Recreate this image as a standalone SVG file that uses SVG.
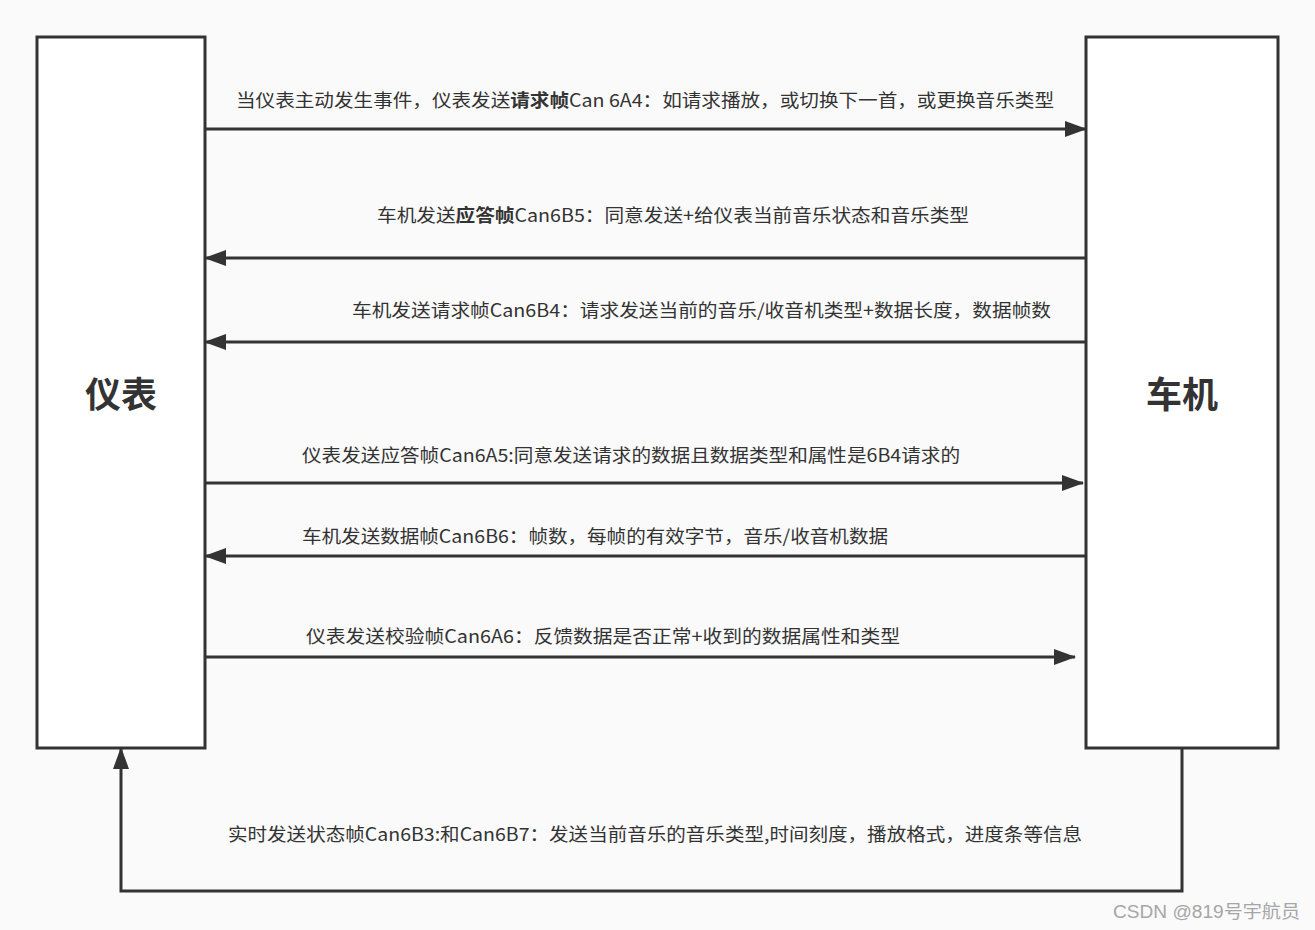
<svg xmlns="http://www.w3.org/2000/svg" width="1315" height="930" viewBox="0 0 1315 930">
<style>
.box{fill:#ffffff;stroke:#333333;stroke-width:3}
.ln{fill:none;stroke:#333333;stroke-width:3}
.lbl{font-family:"Noto Sans CJK SC","Noto Sans",sans-serif;font-size:18px;fill:#333333}
.title{font-family:"Noto Sans CJK SC","Noto Sans",sans-serif;font-size:36px;font-weight:bold;fill:#333333;text-anchor:middle}
.b{font-weight:bold}
.wm{font-family:"Liberation Sans","Noto Sans CJK SC",sans-serif;font-size:18px;fill:#a6a6a6}
</style>
<defs>
<marker id="arr" markerUnits="userSpaceOnUse" markerWidth="22" markerHeight="16" refX="21" refY="8" orient="auto">
<path d="M0,0 L22,8 L0,16 Z" fill="#333333"/>
</marker>
</defs>
<rect x="0" y="0" width="1315" height="930" fill="#fafafa"/>
<g id="node-yibiao">
<rect class="box" x="37" y="37" width="168" height="711"/>
<text class="title" x="121" y="408">仪表</text>
</g>
<g id="node-cheji">
<rect class="box" x="1086" y="37" width="192" height="711"/>
<text class="title" x="1182" y="408">车机</text>
</g>
<g id="connectors">
<line class="ln" x1="205" y1="129" x2="1086" y2="129" marker-end="url(#arr)"/>
<text class="lbl" x="236" y="107" textLength="818" lengthAdjust="spacingAndGlyphs">当仪表主动发生事件，仪表发送<tspan class="b">请求帧</tspan>Can 6A4：如请求播放，或切换下一首，或更换音乐类型</text>
<line class="ln" x1="1086" y1="258" x2="205" y2="258" marker-end="url(#arr)"/>
<text class="lbl" x="377" y="222" textLength="592" lengthAdjust="spacingAndGlyphs">车机发送<tspan class="b">应答帧</tspan>Can6B5：同意发送+给仪表当前音乐状态和音乐类型</text>
<line class="ln" x1="1086" y1="342" x2="205" y2="342" marker-end="url(#arr)"/>
<text class="lbl" x="352" y="317" textLength="699" lengthAdjust="spacingAndGlyphs">车机发送请求帧Can6B4：请求发送当前的音乐/收音机类型+数据长度，数据帧数</text>
<line class="ln" x1="205" y1="483" x2="1083" y2="483" marker-end="url(#arr)"/>
<text class="lbl" x="302" y="462" textLength="658" lengthAdjust="spacingAndGlyphs">仪表发送应答帧Can6A5:同意发送请求的数据且数据类型和属性是6B4请求的</text>
<line class="ln" x1="1086" y1="556" x2="205" y2="556" marker-end="url(#arr)"/>
<text class="lbl" x="302" y="543" textLength="586" lengthAdjust="spacingAndGlyphs">车机发送数据帧Can6B6：帧数，每帧的有效字节，音乐/收音机数据</text>
<line class="ln" x1="205" y1="657" x2="1075" y2="657" marker-end="url(#arr)"/>
<text class="lbl" x="306" y="643" textLength="594" lengthAdjust="spacingAndGlyphs">仪表发送校验帧Can6A6：反馈数据是否正常+收到的数据属性和类型</text>
<polyline class="ln" points="1182,748 1182,891 121,891 121,748" marker-end="url(#arr)"/>
<text class="lbl" x="228" y="841" textLength="854" lengthAdjust="spacingAndGlyphs">实时发送状态帧Can6B3:和Can6B7：发送当前音乐的音乐类型,时间刻度，播放格式，进度条等信息</text>
</g>
<text class="wm" x="1113" y="918" textLength="187" lengthAdjust="spacingAndGlyphs">CSDN @819号宇航员</text>
</svg>
